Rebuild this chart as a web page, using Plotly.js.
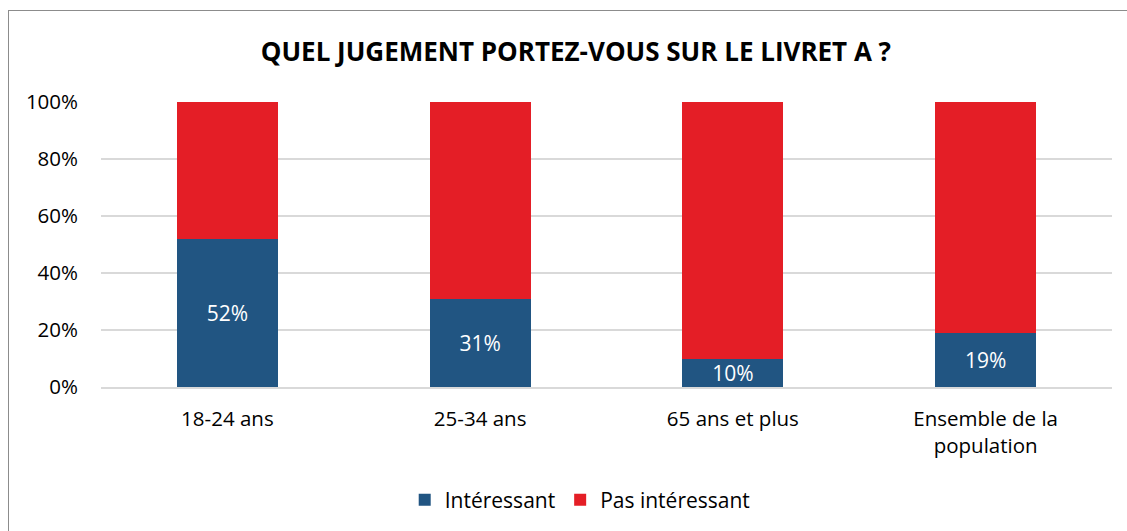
<!DOCTYPE html>
<html><head><meta charset="utf-8">
<script src="https://cdn.plot.ly/plotly-3.0.1.min.js"></script>
<style>
html,body{margin:0;padding:0;background:#fff;}
#wrap{position:relative;width:1127px;height:531px;overflow:hidden;}
#frame{position:absolute;left:8px;top:10px;width:1130px;height:540px;border:1px solid #8c8c8c;box-sizing:border-box;pointer-events:none;}
#chart{position:absolute;left:0;top:0;width:1127px;height:531px;}
</style></head>
<body><div id="wrap"><div id="chart"></div><div id="frame"></div></div>
<script>
const categories = ["18-24 ans", "25-34 ans", "65 ans et plus", "Ensemble de la<br>population"];
const interessant = [52, 31, 10, 19];
const pasInteressant = [48, 69, 90, 81];
const yTickVals = [0, 20, 40, 60, 80, 100];
const yTickText = ["0%", "20%", "40%", "60%", "80%", "100%"];

const font = "'Open Sans', sans-serif";
const traces = [
  {type:"bar", name:"Intéressant", x:categories, y:interessant,
   marker:{color:"#215582"}, width:0.4,
   text:interessant.map(v=>v+"%"), textposition:"inside", insidetextanchor:"middle", constraintext:"none",
   textfont:{color:"#ffffff", size:21, family:font}, hoverinfo:"skip"},
  {type:"bar", name:"Pas intéressant", x:categories, y:pasInteressant,
   marker:{color:"#E41E26"}, width:0.4, hoverinfo:"skip"}
];
const layout = {
  width:1127, height:531, barmode:"stack",
  margin:{l:101, r:15, t:102, b:144, autoexpand:false},
  paper_bgcolor:"#ffffff", plot_bgcolor:"#ffffff",
  font:{family:font, size:20.5, color:"#000"},
  title:{text:"<b>QUEL JUGEMENT PORTEZ-VOUS SUR LE LIVRET A ?</b>", x:0.511, xanchor:"center", y:0.902, yanchor:"middle",
         font:{family:font, size:26, color:"#000"}},
  xaxis:{showgrid:false, showline:true, linecolor:"#d9d9d9", linewidth:1.5, ticks:"", tickfont:{size:20.5}, ticklabelstandoff:13},
  yaxis:{range:[0,100], tickvals:yTickVals, ticktext:yTickText, showgrid:true, gridcolor:"#d9d9d9", gridwidth:1.5,
         zeroline:false, showline:false, ticks:"", tickfont:{size:20.5}, ticklabelstandoff:22},
  legend:{orientation:"h", x:0.474, xanchor:"center", yref:"container", y:0.058, yanchor:"middle", font:{size:21}, traceorder:"normal", itemwidth:30},
  showlegend:true
};
Plotly.newPlot("chart", traces, layout, {displayModeBar:false, staticPlot:true});
</script></body></html>
